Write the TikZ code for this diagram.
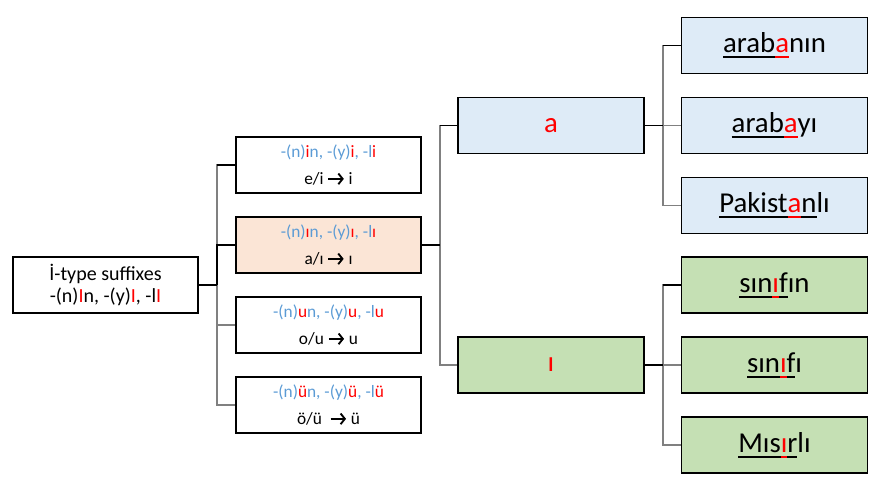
\documentclass[tikz,border=0pt]{standalone}
\usepackage{fontspec}
\usetikzlibrary{arrows.meta}
\setmainfont{Carlito}
\definecolor{sufblue}{HTML}{5B9BD5}
\definecolor{sufred}{HTML}{FF0000}
\definecolor{boxblue}{HTML}{DEEBF7}
\definecolor{boxpeach}{HTML}{FBE5D6}
\definecolor{boxgreen}{HTML}{C5E0B4}
\definecolor{linegray}{HTML}{808080}
\newcommand\Bl[1]{\textcolor{sufblue}{#1}}
\newcommand\Rd[1]{\textcolor{sufred}{#1}}
\newcommand\Arr{\tikz[baseline=0pt]{\draw[line width=1.4pt,-{Straight Barb[length=3.2pt,width=8pt,line width=1.4pt]}] (0pt,4.2pt) -- (11.5pt,4.2pt);}}
\newcommand\ulk[1]{\setbox0\hbox{#1}\rlap{\rule[-4pt]{\wd0}{1.4pt}}\box0}
\newcommand\ulr[1]{\setbox0\hbox{\textcolor{sufred}{#1}}\rlap{\textcolor{sufred}{\rule[-4pt]{\wd0}{1.4pt}}}\box0}
\begin{document}
\begin{tikzpicture}[x=0.75pt,y=-0.75pt,
  box/.style={draw=black, line width=0.9pt, minimum width=138.75pt, minimum height=42pt, inner sep=0pt, align=center},
  rootbox/.style={box, font=\fontsize{15}{16}\selectfont},
  midbox/.style={box, font=\fontsize{13}{20.25}\selectfont},
  bigbox/.style={box, minimum width=139.5pt, font=\fontsize{21.6}{24}\selectfont},
  blk/.style={draw=black, line width=1pt},
  gry/.style={draw=linegray, line width=1.2pt}]
\useasboundingbox (0,0) rectangle (887,484);

% root
\node[rootbox] (root) at (105.5,285) {İ-type suffixes\\-(n)\Rd{I}n, -(y)\Rd{I}, -l\Rd{I}};

% middle column
\node[midbox] (m1) at (328.5,165) {\Bl{-(n)}\Rd{i}\Bl{n, -(y)}\Rd{i}\Bl{, -l}\Rd{i}\\e/i \Arr\ i};
\node[midbox, fill=boxpeach] (m2) at (328.5,245) {\Bl{-(n)}\Rd{ı}\Bl{n, -(y)}\Rd{ı}\Bl{, -l}\Rd{ı}\\a/ı \Arr\ ı};
\node[midbox] (m3) at (328.5,325) {\Bl{-(n)}\Rd{u}\Bl{n, -(y)}\Rd{u}\Bl{, -l}\Rd{u}\\o/u \Arr\ u};
\node[midbox] (m4) at (328.5,405) {\Bl{-(n)}\Rd{ü}\Bl{n, -(y)}\Rd{ü}\Bl{, -l}\Rd{ü}\\ö/ü\ \ \Arr\ ü};

% vowel boxes
\node[bigbox, fill=boxblue] (va) at (551,125.5) {\Rd{a}};
\node[bigbox, fill=boxgreen] (vi) at (551,365) {\Rd{ı}};

% word boxes
\node[bigbox, fill=boxblue] (w1) at (774.5,45.5) {\ulk{arab}\ulr{a}nın};
\node[bigbox, fill=boxblue] (w2) at (774.5,125.5) {\ulk{arab}\ulr{a}yı};
\node[bigbox, fill=boxblue] (w3) at (774.5,205.5) {\ulk{Pakist}\ulr{a}\ulk{n}lı};
\node[bigbox, fill=boxgreen] (w4) at (774.5,285) {\ulk{sın}\ulr{ı}\ulk{f}ın};
\node[bigbox, fill=boxgreen] (w5) at (774.5,365) {\ulk{sın}\ulr{ı}\ulk{f}ı};
\node[bigbox, fill=boxgreen] (w6) at (774.5,445) {\ulk{Mıs}\ulr{ı}\ulk{r}lı};

% junctions
\coordinate (j1) at (217,285);
\coordinate (j2) at (440,245);
\coordinate (j3) at (663,125.5);
\coordinate (j4) at (663,365);

% connectors
\draw[gry] (j1) |- (m1.west);
\draw[gry] (j1) |- (m3.west);
\draw[gry] (j1) |- (m4.west);
\draw[blk] (j1) |- (m2.west);
\draw[blk] (root.east) -- (j1);
\draw[blk] (j1 |- m1.west) -- (m1.west);

\draw[gry] (j2) |- (va.west);
\draw[gry] (j2) |- (vi.west);
\draw[blk] (m2.east) -- (j2);
\draw[blk] (j2 |- va.west) -- (va.west);

\draw[gry] (j3) |- (w1.west);
\draw[gry] (j3) |- (w2.west);
\draw[gry] (j3) |- (w3.west);
\draw[blk] (va.east) -- (j3);
\draw[blk] (j3 |- w1.west) -- (w1.west);

\draw[gry] (j4) |- (w4.west);
\draw[gry] (j4) |- (w5.west);
\draw[gry] (j4) |- (w6.west);
\draw[blk] (vi.east) -- (j4);
\draw[blk] (j4 |- w4.west) -- (w4.west);
\end{tikzpicture}
\end{document}
